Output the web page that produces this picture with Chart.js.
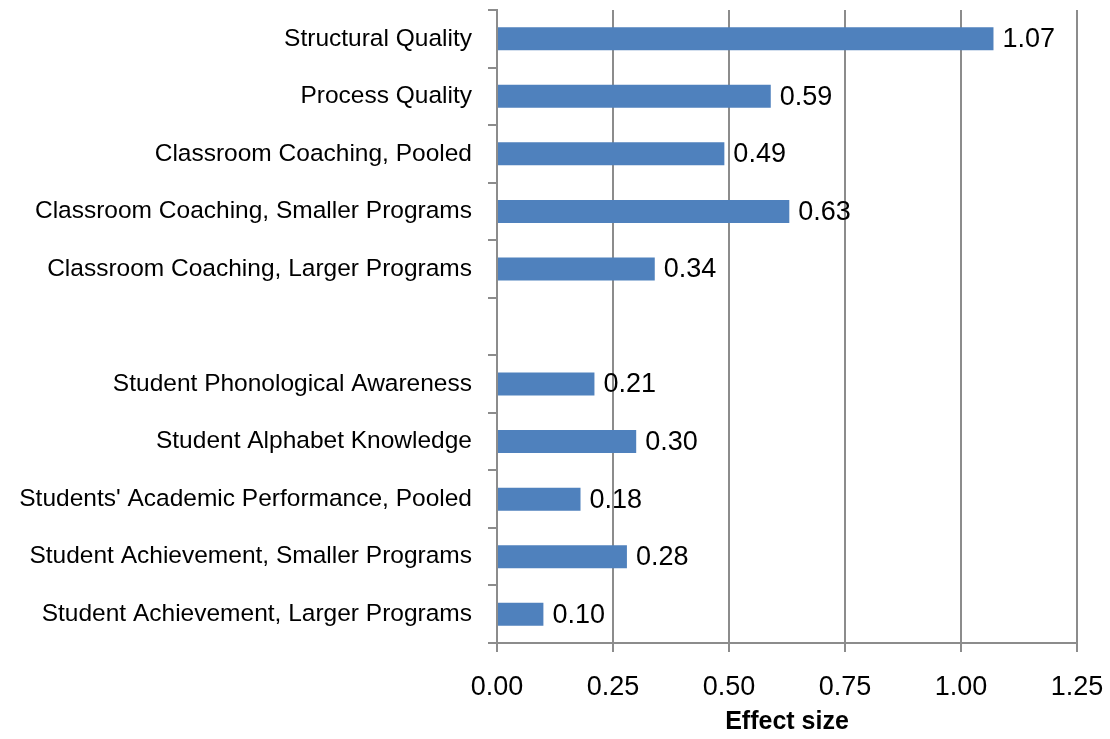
<!DOCTYPE html>
<html>
<head>
<meta charset="utf-8">
<script src="https://cdn.jsdelivr.net/npm/chart.js@4"></script>
<style>
    html, body { margin: 0; padding: 0; background: #fff; }
    #wrap { width: 1110px; height: 739px; }
</style>
</head>
<body>
<div id="wrap"><canvas id="effectChart"></canvas></div>
<script>
const categories = [
    'Structural Quality',
    'Process Quality',
    'Classroom Coaching, Pooled',
    'Classroom Coaching, Smaller Programs',
    'Classroom Coaching, Larger Programs',
    '',
    'Student Phonological Awareness',
    'Student Alphabet Knowledge',
    "Students' Academic Performance, Pooled",
    'Student Achievement, Smaller Programs',
    'Student Achievement, Larger Programs'
];
const effectSizes = [1.07, 0.59, 0.49, 0.63, 0.34, null, 0.21, 0.30, 0.18, 0.28, 0.10];
const xTicks = [0, 0.25, 0.5, 0.75, 1.0, 1.25];

const FONT = 'Liberation Sans, Arial, sans-serif';
const GRID = '#8c8c8c';

// draws the value just past the end of each bar
const valueLabels = {
    id: 'valueLabels',
    afterDatasetsDraw(chart) {
        const ctx = chart.ctx;
        const meta = chart.getDatasetMeta(0);
        ctx.save();
        ctx.font = '27px ' + FONT;
        ctx.fillStyle = '#000';
        ctx.textAlign = 'left';
        ctx.textBaseline = 'middle';
        meta.data.forEach((bar, i) => {
            const v = effectSizes[i];
            if (v === null) return;
            ctx.fillText(v.toFixed(2), bar.x + 9, bar.y + 1);
        });
        ctx.restore();
    }
};

new Chart(document.getElementById('effectChart'), {
    type: 'bar',
    data: {
        labels: categories,
        datasets: [{
            data: effectSizes,
            backgroundColor: '#4f81bd',
            borderWidth: 0,
            categoryPercentage: 1.0,
            barPercentage: 0.4
        }]
    },
    options: {
        indexAxis: 'y',
        responsive: true,
        maintainAspectRatio: false,
        animation: false,
        layout: { padding: { top: 10, right: 33, left: 0, bottom: 0 } },
        plugins: {
            legend: { display: false },
            tooltip: { enabled: false }
        },
        scales: {
            x: {
                min: 0,
                max: 1.25,
                afterBuildTicks: (scale) => { scale.ticks = xTicks.map(v => ({ value: v })); },
                afterFit: (scale) => { scale.height = 96; scale.paddingLeft = 0; scale.paddingRight = 0; },
                border: { color: GRID, width: 2 },
                grid: { color: GRID, lineWidth: 2, tickLength: 9, drawTicks: true },
                ticks: {
                    color: '#000',
                    font: { family: FONT, size: 27 },
                    padding: 19,
                    callback: (v) => Number(v).toFixed(2)
                },
                title: {
                    display: true,
                    text: 'Effect size',
                    color: '#000',
                    font: { family: FONT, size: 25, weight: 'bold' },
                    padding: { top: 0, bottom: 2 }
                }
            },
            y: {
                afterFit: (scale) => { scale.width = 497; scale.paddingTop = 0; scale.paddingBottom = 0; },
                border: { color: GRID, width: 2 },
                grid: { offset: true, drawOnChartArea: false, color: GRID, lineWidth: 2, tickLength: 9 },
                ticks: {
                    color: '#000',
                    font: { family: FONT, size: 24.5 },
                    padding: 16
                }
            }
        }
    },
    plugins: [valueLabels]
});
</script>
</body>
</html>
